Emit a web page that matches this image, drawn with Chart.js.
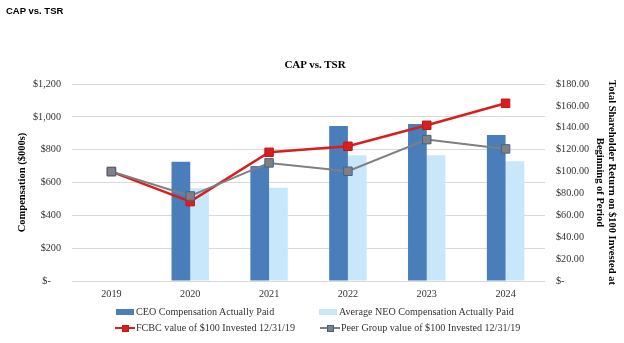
<!DOCTYPE html>
<html>
<head>
<meta charset="utf-8">
<script src="https://cdn.jsdelivr.net/npm/chart.js@4/dist/chart.umd.min.js"></script>
<style>
  html, body { margin: 0; padding: 0; background: #fff; }
  #wrap { position: relative; width: 624px; height: 343px; overflow: hidden; }
  #c { position: absolute; left: 0; top: 0; }
  .txt { position: absolute; white-space: nowrap; color: #000; }
  #pageTitle { left: 6px; top: 5px; font: bold 9.5px "Liberation Sans", Arial, sans-serif; }
  #chartTitle { left: 0; width: 630px; top: 58px; text-align: center; font: bold 11px "Liberation Serif", "Times New Roman", serif; }
  .leg { position: absolute; font: 10.1px "Liberation Serif", "Times New Roman", serif; color: #333; white-space: nowrap; line-height: 12px; }
  .sw { position: absolute; }
</style>
</head>
<body>
<div id="wrap">
  <canvas id="c" width="624" height="343"></canvas>
  <div id="pageTitle" class="txt">CAP vs. TSR</div>
  <div id="chartTitle" class="txt">CAP vs. TSR</div>
  <div id="legend"></div>
</div>
<script>
const years = ['2019', '2020', '2021', '2022', '2023', '2024'];
const ceoPay = [null, 727, 700, 944, 956, 889];
const neoPay = [null, 565, 568, 766, 766, 729];
const fcbcTsr = [100, 72.5, 117.6, 123.1, 142.3, 162.4];
const peerTsr = [100, 77.7, 107.9, 100.3, 129.2, 120.7];
const leftTicks = ['$-    ', '$200', '$400', '$600', '$800', '$1,000', '$1,200'];
const rightTicks = ['$-', '$20.00', '$40.00', '$60.00', '$80.00', '$100.00', '$120.00', '$140.00', '$160.00', '$180.00'];
const seriesNames = ['CEO Compensation Actually Paid', 'Average NEO Compensation Actually Paid',
  'FCBC value of $100 Invested 12/31/19', 'Peer Group value of $100 Invested 12/31/19'];

const serif = '"Liberation Serif", "Times New Roman", serif';
const tickFont = { family: serif, size: 10.2 };
const titleFont = { family: serif, size: 10.5, weight: 'bold', lineHeight: 1.1 };

const chart = new Chart(document.getElementById('c'), {
  data: {
    labels: years,
    datasets: [
      { type: 'bar', label: seriesNames[0], data: ceoPay, yAxisID: 'y', order: 2,
        backgroundColor: '#4a7ebb', categoryPercentage: 0.475, barPercentage: 1.0 },
      { type: 'bar', label: seriesNames[1], data: neoPay, yAxisID: 'y', order: 2,
        backgroundColor: '#c9e7fb', categoryPercentage: 0.475, barPercentage: 1.0 },
      { type: 'line', label: seriesNames[2], data: fcbcTsr, yAxisID: 'y1', order: 1,
        borderColor: '#d81e1e', borderWidth: 2.5, tension: 0,
        pointStyle: 'rect', pointRadius: 6, pointBackgroundColor: '#d81e1e', pointBorderColor: '#c01818', pointBorderWidth: 1 },
      { type: 'line', label: seriesNames[3], data: peerTsr, yAxisID: 'y1', order: 0,
        borderColor: '#7f7f7f', borderWidth: 2, tension: 0,
        pointStyle: 'rect', pointRadius: 6, pointBackgroundColor: '#808080', pointBorderColor: '#44618c', pointBorderWidth: 1 }
    ]
  },
  options: {
    responsive: false,
    animation: false,
    devicePixelRatio: 1,
    layout: { padding: { top: 84, left: 0, right: 0, bottom: 0 } },
    plugins: { legend: { display: false }, tooltip: { enabled: false }, title: { display: false } },
    scales: {
      x: {
        grid: { display: false, drawTicks: false },
        border: { display: false },
        ticks: { font: tickFont, color: '#333', padding: 7, maxRotation: 0 },
        afterFit: s => { s.height = 62; }
      },
      y: {
        position: 'left', min: 0, max: 1200,
        grid: { color: '#d9d9d9', lineWidth: 1, drawTicks: false },
        border: { display: false },
        ticks: { stepSize: 200, font: tickFont, color: '#333', padding: 11,
          callback: (v, i) => leftTicks[i] },
        title: { display: true, text: 'Compensation ($000s)', font: titleFont, color: '#000',
          padding: { top: 17, bottom: 0 } },
        afterFit: s => { s.width = 72; }
      },
      y1: {
        position: 'right', min: 0, max: 180,
        grid: { display: false, drawTicks: false },
        border: { display: false },
        ticks: { stepSize: 20, font: tickFont, color: '#333', padding: 11,
          callback: (v, i) => rightTicks[i] },
        title: { display: true, text: ['Total Shareholder Return on $100 Invested at', 'Beginning of Period'],
          font: titleFont, color: '#000', padding: { top: 7, bottom: 0 } },
        afterFit: s => { s.width = 79; }
      }
    }
  }
});

// HTML legend built from the chart's datasets
const legend = document.getElementById('legend');
const pos = [[116, 312], [319, 312], [115, 328], [320, 328]];
chart.data.datasets.forEach((ds, i) => {
  const [x, y] = pos[i];
  if (ds.type === 'bar') {
    const sw = document.createElement('div');
    sw.className = 'sw';
    sw.style.cssText = `left:${x}px;top:${y - 3}px;width:18px;height:6px;background:${ds.backgroundColor};`;
    legend.appendChild(sw);
  } else {
    const ln = document.createElement('div');
    ln.className = 'sw';
    ln.style.cssText = `left:${x}px;top:${y - 1}px;width:20px;height:2px;background:${ds.borderColor};`;
    legend.appendChild(ln);
    const mk = document.createElement('div');
    mk.className = 'sw';
    mk.style.cssText = `left:${x + 7}px;top:${y - 3}px;width:5px;height:5px;background:${ds.pointBackgroundColor};border:0.5px solid ${ds.pointBorderColor};`;
    legend.appendChild(mk);
  }
  const t = document.createElement('div');
  t.className = 'leg';
  t.textContent = ds.label;
  t.style.left = (ds.type === 'bar' ? x + 20 : x + 21) + 'px';
  t.style.top = (y - 6) + 'px';
  legend.appendChild(t);
});
</script>
</body>
</html>
